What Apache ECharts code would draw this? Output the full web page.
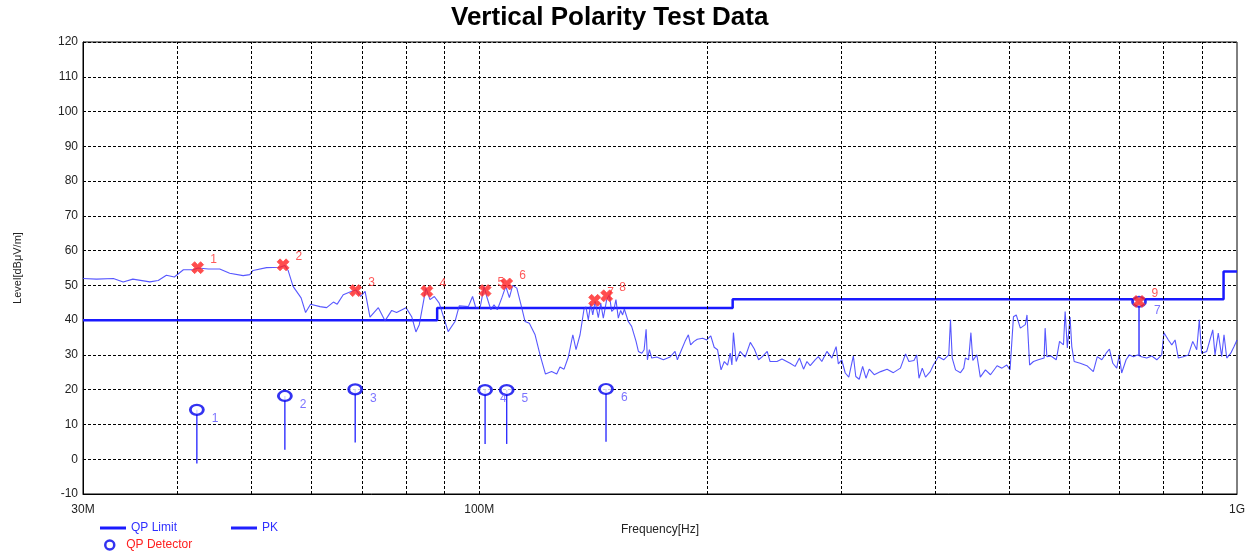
<!DOCTYPE html>
<html>
<head>
<meta charset="utf-8">
<script src="https://cdn.jsdelivr.net/npm/echarts@6/dist/echarts.min.js"></script>
<style>
html,body{margin:0;padding:0;background:#fff;}
#chart{width:1256px;height:553px;}
</style>
</head>
<body>
<div id="chart"></div>
<script>
// ---- Data (frequency in MHz, level in dBµV/m) ----
const limitFreq  = [30, 88, 88, 216, 216, 960, 960, 1000];
const limitLevel = [40, 40, 43.5, 43.5, 46, 46, 54, 54];

const pkFreq = [30.0,31.25,32.9,33.9,34.9,36.75,37.7,38.65,39.6,40.7,41.9,42.55,43.9,45.45,46.85,48.8,49.8,50.3,52.4,54.55,55.4,55.95,56.8,58.2,59.0,59.9,61.65,62.9,64.2,64.95,66.15,67.9,68.75,69.75,70.7,71.75,73.6,75.1,76.65,77.8,80.05,81.45,82.5,83.35,85.05,86.1,87.25,88.55,91.0,92.9,94.1,96.75,98.0,98.95,100.25,101.5,102.3,103.6,104.6,105.65,107.1,108.4,109.6,110.7,112.1,113.8,114.95,116.45,118.5,120.3,122.3,124.6,126.55,127.8,129.4,131.1,132.9,134.2,135.85,137.5,138.3,139.3,140.3,141.2,142.2,143.6,144.65,145.8,147.3,148.5,149.55,150.6,151.5,152.6,153.7,154.6,155.4,157.3,158.9,161.05,162.2,163.9,165.05,166.05,166.7,167.7,168.9,171.5,175.0,178.6,181.3,182.6,184.5,186.9,188.8,190.1,192.1,194.0,197.2,199.6,202.1,204.2,206.3,208.5,210.6,212.7,214.4,215.5,216.5,218.3,220.9,224.4,227.9,230.7,233.7,236.1,239.9,242.0,247.1,250.9,257.2,261.1,264.6,267.9,270.7,273.4,277.5,280.2,283.2,287.6,292.0,295.8,297.8,300.9,304.1,307.4,311.7,314.0,317.3,320.6,323.9,327.1,332.1,338.7,345.3,352.0,359.6,365.3,369.0,374.7,377.8,380.5,384.3,388.1,393.75,397.5,403.6,410.1,416.5,418.7,420.9,425.2,431.6,435.9,438.1,442.4,445.5,448.1,453.6,458.4,465.6,472.8,482.4,489.6,496.8,501.75,507.0,511.3,517.7,525.6,528.3,532.5,538.8,546.8,556.5,558.2,561.2,568.2,577.4,583.2,590.2,593.2,597.2,602.1,605.3,609.7,621.0,633.7,646.2,654.1,663.1,671.9,678.7,685.7,693.9,699.2,704.4,713.9,721.1,730.0,738.8,748.5,760.1,771.9,783.7,795.5,801.0,811.75,820.25,828.5,836.75,849.25,862.5,874.2,884.8,891.8,898.1,912.1,929.0,935.4,944.7,954.5,961.3,969.3,981.25,991.1,1000];
const pkLevel = [52.0,51.8,52.0,51.0,51.8,51.0,51.4,52.9,52.4,54.5,54.5,55.0,54.7,54.7,53.5,52.8,53.1,54.3,55.1,55.2,55.7,54.3,49.7,46.4,42.2,44.6,43.9,43.6,45.2,44.6,47.3,48.3,48.7,46.8,48.3,40.9,43.6,39.8,42.8,42.2,43.6,41.0,36.6,38.7,49.2,45.9,46.8,44.9,36.7,39.6,44.1,43.9,46.8,43.6,43.5,49.7,46.8,43.0,44.4,43.0,46.4,49.7,46.5,50.0,49.2,43.5,39.6,39.1,35.8,30.0,24.5,25.2,24.5,26.5,25.9,29.4,35.8,31.5,35.8,43.2,43.8,40.1,44.7,41.5,45.4,40.7,44.9,40.6,45.9,47.3,42.5,43.2,45.9,40.6,42.8,41.5,43.2,39.6,38.2,33.9,31.0,30.5,31.5,37.4,28.6,31.5,29.1,29.4,28.6,29.4,31.0,28.6,31.0,33.9,35.8,32.9,33.9,34.5,34.8,34.3,35.5,32.2,31.5,25.7,28.1,27.1,30.5,27.1,36.4,28.1,31.0,29.4,33.6,31.7,28.6,29.4,31.0,28.1,28.1,28.8,27.6,26.7,29.1,25.9,28.1,26.9,28.6,29.5,28.1,31.0,29.1,32.4,27.4,28.6,24.8,23.6,29.7,23.8,23.0,26.7,23.3,25.9,24.3,25.2,25.9,24.9,26.2,30.3,28.1,28.4,30.0,23.3,26.2,23.6,25.2,27.1,29.5,28.6,30.0,40.1,29.1,25.7,24.9,26.2,29.1,28.6,36.4,28.4,30.0,23.6,25.7,24.3,26.9,26.2,27.1,25.7,41.0,41.5,37.7,38.7,41.5,27.1,28.1,28.6,29.1,37.7,29.5,29.7,28.6,33.9,32.9,42.5,32.0,40.9,32.4,28.1,27.6,26.9,25.2,29.5,28.6,30.5,31.7,27.6,26.2,30.0,24.8,28.6,30.0,29.5,30.0,29.5,29.1,29.7,28.6,30.0,36.4,34.3,32.9,34.3,29.1,29.5,30.0,33.9,31.5,40.1,30.5,31.0,37.2,30.0,36.3,29.5,35.8,29.1,30.5,32.4,34.3];

const peakFreq   = [42.5, 55.1, 68.7, 85.3, 101.8, 108.7, 142.0, 147.3, 742.5];
const peakLevel  = [55.1, 55.9, 48.5, 48.3, 48.5, 50.4, 45.7, 47.0, 45.4];
const peakLabels = ['1','2','3','4','5','6','7','8','9'];

const qpFreq       = [42.4, 55.4, 68.6, 101.8, 108.7, 147.0, 742.5];
const qpLevel      = [14.2, 18.2, 20.1, 19.9, 19.9, 20.2, 45.3];
const qpStemBottom = [-1.2, 2.7, 4.8, 4.4, 4.4, 5.0, 30.0];
const qpLabels     = ['1','2','3','4','5','6','7'];

const gridFreq    = [40, 50, 60, 70, 80, 90, 100, 200, 300, 400, 500, 600, 700, 800, 900];
const xTickFreq   = [30, 100, 1000];
const xTickLabels = ['30M', '100M', '1G'];

// ---- Chart ----
const FONT = 'Arial, "Liberation Sans", sans-serif';
const chart = echarts.init(document.getElementById('chart'), null, {renderer: 'canvas'});

const zip = (a, b) => a.map((v, i) => [v, b[i]]);

const option = {
  animation: false,
  backgroundColor: '#fff',
  title: {
    text: 'Vertical Polarity Test Data',
    left: 451,
    top: 5,
    padding: 0,
    textStyle: {fontFamily: FONT, fontSize: 26, fontWeight: 'bold', color: '#000'}
  },
  grid: {left: 83, right: 19, top: 42, bottom: 59, show: true, borderColor: '#000', borderWidth: 1},
  legend: [
    {
      left: 95, top: 517, itemWidth: 26, itemHeight: 3, itemGap: 54,
      icon: 'rect',
      data: ['QP Limit', 'PK'],
      textStyle: {fontFamily: FONT, fontSize: 12, color: '#3030ff'}
    },
    {
      left: 99, top: 534, itemWidth: 9, itemHeight: 9, itemGap: 10,
      data: [{name: 'QP Detector', icon: 'circle',
              itemStyle: {color: '#fff', borderColor: '#0000ee', borderWidth: 2.5}}],
      textStyle: {fontFamily: FONT, fontSize: 12, color: '#ff2020', padding: [0, 0, 0, 7]}
    }
  ],
  xAxis: {
    type: 'log',
    logBase: 10,
    min: 30, max: 1000,
    name: 'Frequency[Hz]',
    nameLocation: 'middle',
    nameGap: 30,
    nameTextStyle: {fontFamily: FONT, fontSize: 12, color: '#222'},
    axisLine: {show: true, onZero: false, lineStyle: {color: '#000', width: 1}},
    axisTick: {show: false},
    splitLine: {show: false},
    minorSplitLine: {show: false},
    axisLabel: {
      show: true,
      customValues: xTickFreq,
      margin: 10,
      fontFamily: FONT, fontSize: 12, color: '#222',
      formatter: function (v) {
        let best = 0, d = Infinity;
        xTickFreq.forEach((f, i) => { const dd = Math.abs(Math.log10(f) - Math.log10(v)); if (dd < d) { d = dd; best = i; } });
        return xTickLabels[best];
      }
    }
  },
  yAxis: {
    type: 'value',
    min: -10, max: 120, interval: 10,
    name: 'Level[dBμV/m]',
    nameLocation: 'middle',
    nameGap: 60,
    nameRotate: 90,
    nameTextStyle: {fontFamily: FONT, fontSize: 11, color: '#222'},
    axisLine: {show: true, onZero: false, lineStyle: {color: '#000', width: 1}},
    axisTick: {show: false},
    axisLabel: {margin: 5, fontFamily: FONT, fontSize: 12, color: '#222'},
    splitLine: {show: true, lineStyle: {color: '#000', width: 1, type: [3, 2]}}
  },
  series: [
    {
      name: 'gridlines',
      type: 'line',
      data: [],
      z: 1,
      silent: true,
      markLine: {
        silent: true,
        symbol: ['none', 'none'],
        label: {show: false},
        emphasis: {disabled: true},
        lineStyle: {color: '#000', width: 1, type: [3, 2]},
        data: gridFreq.map(f => ({xAxis: f}))
      }
    },
    {
      name: 'QP Limit',
      type: 'line',
      data: zip(limitFreq, limitLevel),
      showSymbol: false,
      symbol: 'none',
      z: 3,
      color: '#1a1aff',
      lineStyle: {color: '#1a1aff', width: 2.5}
    },
    {
      name: 'PK',
      type: 'line',
      data: zip(pkFreq, pkLevel),
      showSymbol: false,
      symbol: 'none',
      z: 4,
      color: '#2020ff',
      lineStyle: {color: '#3a3aff', width: 1.1, opacity: 0.85}
    },
    {
      name: 'QP stems',
      type: 'custom',
      z: 5,
      data: qpFreq.map((f, i) => [f, qpLevel[i], qpStemBottom[i]]),
      encode: {x: 0, y: [1, 2]},
      renderItem: function (params, api) {
        const p1 = api.coord([api.value(0), api.value(1)]);
        const p2 = api.coord([api.value(0), api.value(2)]);
        return {type: 'line', shape: {x1: p1[0], y1: p1[1], x2: p2[0], y2: p2[1]},
                style: {stroke: '#3030ff', lineWidth: 1.4}};
      }
    },
    {
      name: 'QP Detector',
      type: 'scatter',
      z: 6,
      data: qpFreq.map((f, i) => ({value: [f, qpLevel[i]], label: qpLabels[i]})),
      symbol: 'circle',
      symbolSize: [13, 10],
      itemStyle: {color: '#fff', borderColor: '#0000ee', borderWidth: 2.5},
      label: {
        show: true,
        formatter: p => p.data.label,
        position: 'right',
        offset: [2, 9],
        fontFamily: FONT, fontSize: 12, color: '#5a50ff'
      }
    },
    {
      name: 'Peaks',
      type: 'scatter',
      z: 7,
      data: peakFreq.map((f, i) => ({value: [f, peakLevel[i]], label: peakLabels[i]})),
      symbol: 'path://M3,0 L6,3 L9,0 L12,3 L9,6 L12,9 L9,12 L6,9 L3,12 L0,9 L3,6 L0,3 Z',
      symbolSize: 12,
      itemStyle: {color: '#ff2020', borderColor: '#ff5050', borderWidth: 1},
      label: {
        show: true,
        formatter: p => p.data.label,
        position: 'right',
        offset: [1, -8],
        fontFamily: FONT, fontSize: 12, color: '#ff3030'
      }
    }
  ]
};
chart.setOption(option);
</script>
</body>
</html>
